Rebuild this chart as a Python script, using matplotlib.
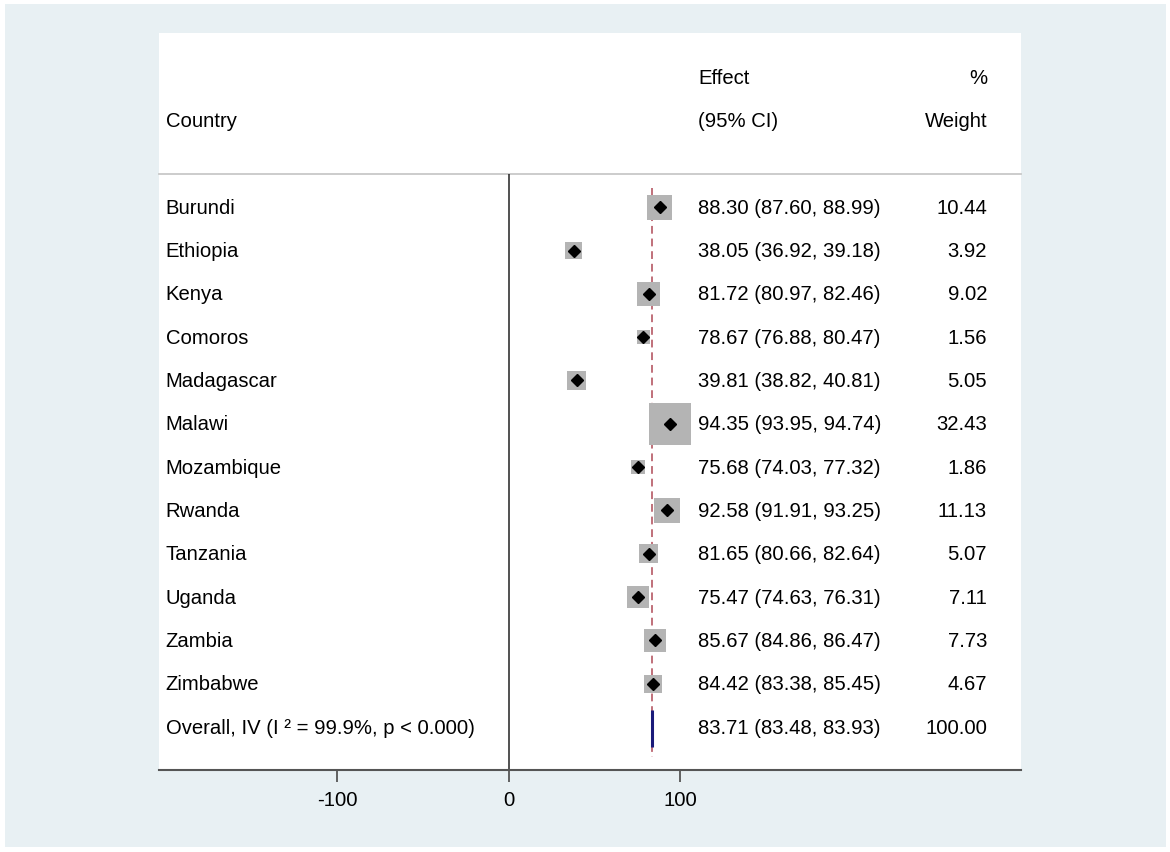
import matplotlib.pyplot as plt
from matplotlib.patches import Rectangle

plt.rcParams['font.family'] = ['Liberation Sans', 'DejaVu Sans']

countries = ['Burundi', 'Ethiopia', 'Kenya', 'Comoros', 'Madagascar', 'Malawi',
             'Mozambique', 'Rwanda', 'Tanzania', 'Uganda', 'Zambia', 'Zimbabwe']
effect = [88.30, 38.05, 81.72, 78.67, 39.81, 94.35, 75.68, 92.58, 81.65, 75.47, 85.67, 84.42]
lower = [87.60, 36.92, 80.97, 76.88, 38.82, 93.95, 74.03, 91.91, 80.66, 74.63, 84.86, 83.38]
upper = [88.99, 39.18, 82.46, 80.47, 40.81, 94.74, 77.32, 93.25, 82.64, 76.31, 86.47, 85.45]
weight = [10.44, 3.92, 9.02, 1.56, 5.05, 32.43, 1.86, 11.13, 5.07, 7.11, 7.73, 4.67]

overall_label = 'Overall, IV (I \u00b2 = 99.9%, p < 0.000)'
overall = [83.71, 83.48, 83.93]
overall_weight = 100.00

W, H = 1170, 853
fig = plt.figure(figsize=(W / 100, H / 100), dpi=100, facecolor='white')
# light graph region, behind the axes
fig.patches.append(Rectangle((5 / W, 5 / H), 1161 / W, 843 / H, transform=fig.transFigure,
                             facecolor='#e8f0f3', edgecolor='none', zorder=-10))

ax = fig.add_axes([159 / W, (H - 771) / H, (1021 - 159) / W, (771 - 34) / H])
ax.set_zorder(1)
ax.set_facecolor('white')
ax.set_xlim(-204.1, 299.1)
ax.set_ylim(12.99, -4.02)

fs = 14.6
rows = list(range(len(countries)))
x_lab, x_eff, x_wt = -200.2, 110.5, 279.3

# header
ax.text(x_lab, -2, 'Country', fontsize=fs, va='center', ha='left')
ax.text(x_eff, -3, 'Effect', fontsize=fs, va='center', ha='left')
ax.text(x_eff, -2, '(95% CI)', fontsize=fs, va='center', ha='left')
ax.text(x_wt, -3, '%', fontsize=fs, va='center', ha='right')
ax.text(x_wt, -2, 'Weight', fontsize=fs, va='center', ha='right')
ax.plot([-204.1, 299.1], [-0.76, -0.76], color='#c8c8c8', lw=1.3, clip_on=False)

# reference lines
ax.vlines(0, -0.76, 12.99, color='#222222', lw=1.1)
ax.vlines(overall[0], -0.45, 12.68, color='#c0707a', lw=1.4, linestyles=(0, (4, 2.5)))

# studies: box area grows with weight
ax.hlines(rows, lower, upper, color='black', lw=1)
ax.scatter(effect, rows, s=[54 + 25.9 * w for w in weight], marker='s', color='#b4b4b4',
           edgecolors='none', zorder=3)
ax.plot(effect, rows, linestyle='none', marker='D', markersize=6, color='black', zorder=4)

for i, c in enumerate(countries):
    ax.text(x_lab, i, c, fontsize=fs, va='center', ha='left')
    ax.text(x_eff, i, f'{effect[i]:.2f} ({lower[i]:.2f}, {upper[i]:.2f})',
            fontsize=fs, va='center', ha='left')
    ax.text(x_wt, i, f'{weight[i]:.2f}', fontsize=fs, va='center', ha='right')

# overall
n = len(countries)
ax.vlines(overall[0], n - 0.4, n + 0.45, color='#1a1a7a', lw=2.2, zorder=5)
ax.text(x_lab, n, overall_label, fontsize=fs, va='center', ha='left')
ax.text(x_eff, n, f'{overall[0]:.2f} ({overall[1]:.2f}, {overall[2]:.2f})',
        fontsize=fs, va='center', ha='left')
ax.text(x_wt, n, f'{overall_weight:.2f}', fontsize=fs, va='center', ha='right')

# axis
for s in ['top', 'left', 'right']:
    ax.spines[s].set_visible(False)
ax.spines['bottom'].set_color('#555555')
ax.spines['bottom'].set_linewidth(1.5)
ax.set_yticks([])
ax.set_xticks([-100, 0, 100])
ax.set_xticklabels(['-100', '0', '100'])
ax.tick_params(axis='x', direction='out', length=8.5, width=1.3, color='#555555',
               labelsize=fs, pad=6)

fig.savefig('out.png', dpi=100, facecolor='white')
